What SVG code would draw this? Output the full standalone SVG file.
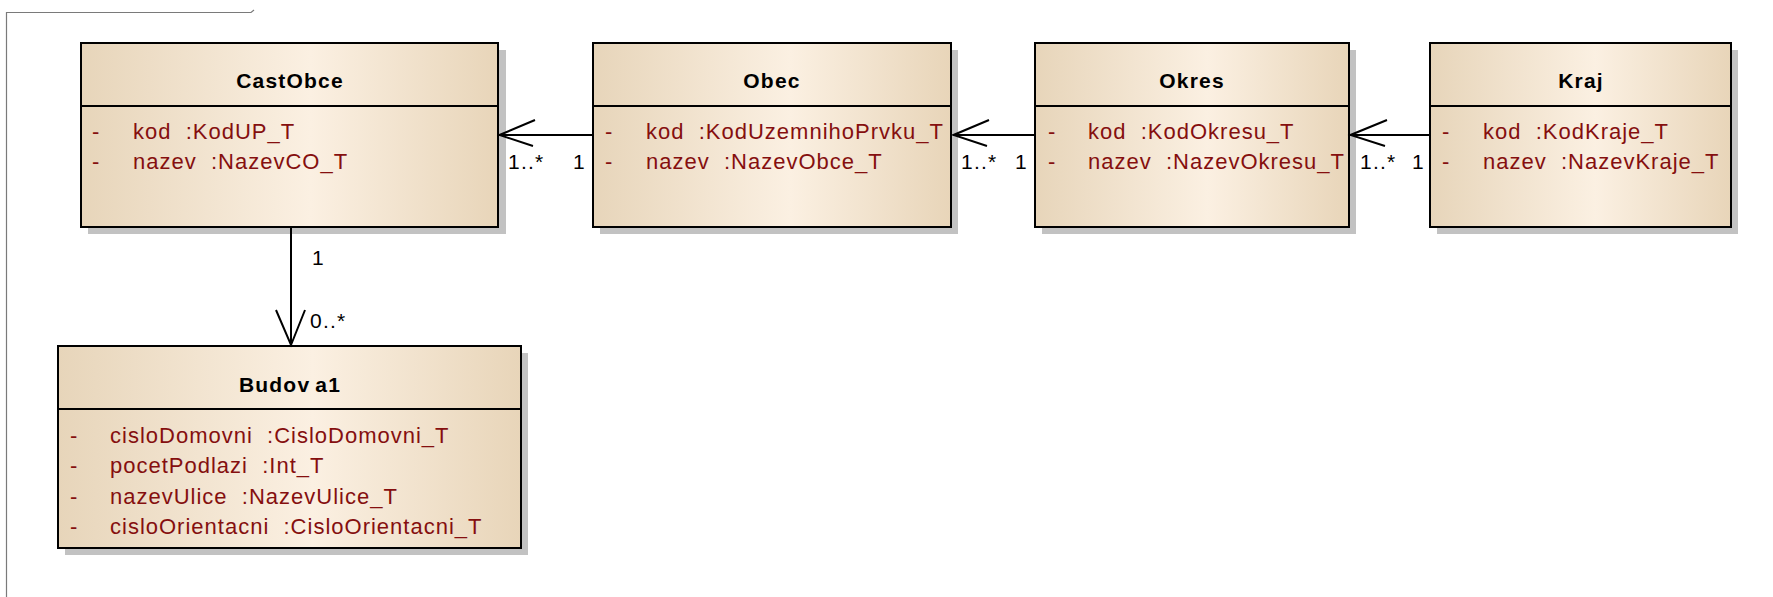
<svg xmlns="http://www.w3.org/2000/svg" width="1773" height="597" viewBox="0 0 1773 597">
  <defs>
    <linearGradient id="classFill" x1="0" y1="0" x2="1" y2="0">
      <stop offset="0" stop-color="#E7D5BA"/>
      <stop offset="0.55" stop-color="#FBF0E2"/>
      <stop offset="1" stop-color="#E8D5B9"/>
    </linearGradient>
    <style>
      .shadow { fill: #C2C2C2; }
      .box { fill: url(#classFill); stroke: #000; stroke-width: 2; }
      .divider { stroke: #000; stroke-width: 2; }
      .title { font-family: "Liberation Sans", Arial, sans-serif; font-size: 21px; font-weight: bold; fill: #000; text-anchor: middle; letter-spacing: 1.2px; }
      .attr { font-family: "Liberation Sans", Arial, sans-serif; font-size: 22px; fill: #850F0F; letter-spacing: 1px; }
      .edge { fill: none; stroke: #000; stroke-width: 2; }
      .mult { font-family: "Liberation Sans", Arial, sans-serif; font-size: 21px; fill: #000; letter-spacing: 1.2px; }
      .frame { fill: none; stroke: #7A7A7A; stroke-width: 1.2; }
    </style>
  </defs>

  <rect width="1773" height="597" fill="#FFFFFF"/>

  <!-- diagram frame -->
  <path class="frame" d="M6.5,597 V12.5 H251 L254,10"/>

  <!-- CastObce -->
  <g id="CastObce">
    <rect class="shadow" x="88" y="50" width="418" height="184"/>
    <rect class="box" x="81" y="43" width="417" height="184"/>
    <line class="divider" x1="81" y1="106" x2="498" y2="106"/>
    <text class="title" x="290" y="88">CastObce</text>
    <text class="attr" y="139"><tspan x="92">-</tspan><tspan x="133">kod&#160; :KodUP_T</tspan></text>
    <text class="attr" y="169"><tspan x="92">-</tspan><tspan x="133">nazev&#160; :NazevCO_T</tspan></text>
  </g>

  <!-- Obec -->
  <g id="Obec">
    <rect class="shadow" x="600" y="50" width="358" height="184"/>
    <rect class="box" x="593" y="43" width="358" height="184"/>
    <line class="divider" x1="593" y1="106" x2="951" y2="106"/>
    <text class="title" x="772" y="88">Obec</text>
    <text class="attr" y="139"><tspan x="605">-</tspan><tspan x="646">kod&#160; :KodUzemnihoPrvku_T</tspan></text>
    <text class="attr" y="169"><tspan x="605">-</tspan><tspan x="646">nazev&#160; :NazevObce_T</tspan></text>
  </g>

  <!-- Okres -->
  <g id="Okres">
    <rect class="shadow" x="1042" y="50" width="314" height="184"/>
    <rect class="box" x="1035" y="43" width="314" height="184"/>
    <line class="divider" x1="1035" y1="106" x2="1349" y2="106"/>
    <text class="title" x="1192" y="88">Okres</text>
    <text class="attr" y="139"><tspan x="1048">-</tspan><tspan x="1088">kod&#160; :KodOkresu_T</tspan></text>
    <text class="attr" y="169"><tspan x="1048">-</tspan><tspan x="1088">nazev&#160; :NazevOkresu_T</tspan></text>
  </g>

  <!-- Kraj -->
  <g id="Kraj">
    <rect class="shadow" x="1437" y="50" width="301" height="184"/>
    <rect class="box" x="1430" y="43" width="301" height="184"/>
    <line class="divider" x1="1430" y1="106" x2="1731" y2="106"/>
    <text class="title" x="1581" y="88">Kraj</text>
    <text class="attr" y="139"><tspan x="1442">-</tspan><tspan x="1483">kod&#160; :KodKraje_T</tspan></text>
    <text class="attr" y="169"><tspan x="1442">-</tspan><tspan x="1483">nazev&#160; :NazevKraje_T</tspan></text>
  </g>

  <!-- Budova1 -->
  <g id="Budova1">
    <rect class="shadow" x="65" y="353" width="463" height="202"/>
    <rect class="box" x="58" y="346" width="463" height="202"/>
    <line class="divider" x1="58" y1="409" x2="521" y2="409"/>
    <text class="title" x="290" y="392">Budov<tspan dx="5">a1</tspan></text>
    <text class="attr" y="443"><tspan x="70">-</tspan><tspan x="110">cisloDomovni&#160; :CisloDomovni_T</tspan></text>
    <text class="attr" y="473"><tspan x="70">-</tspan><tspan x="110">pocetPodlazi&#160; :Int_T</tspan></text>
    <text class="attr" y="504"><tspan x="70">-</tspan><tspan x="110">nazevUlice&#160; :NazevUlice_T</tspan></text>
    <text class="attr" y="534"><tspan x="70">-</tspan><tspan x="110">cisloOrientacni&#160; :CisloOrientacni_T</tspan></text>
  </g>

  <!-- associations with open arrowheads and multiplicities -->
  <g id="connectors">
    <line class="edge" x1="593" y1="135" x2="499" y2="135"/>
    <polyline class="edge" points="535,120 499.5,135 533,146"/>
    <text class="mult" x="508" y="169">1..*</text>
    <text class="mult" x="573" y="169">1</text>

    <line class="edge" x1="1035" y1="135" x2="953" y2="135"/>
    <polyline class="edge" points="989,120 953.5,135 987,146"/>
    <text class="mult" x="961" y="169">1..*</text>
    <text class="mult" x="1015" y="169">1</text>

    <line class="edge" x1="1430" y1="135" x2="1350" y2="135"/>
    <polyline class="edge" points="1387,120 1350.5,135 1385,146"/>
    <text class="mult" x="1360" y="169">1..*</text>
    <text class="mult" x="1412" y="169">1</text>

    <line class="edge" x1="291" y1="227" x2="291" y2="345"/>
    <polyline class="edge" points="276,310 291,345 305,310"/>
    <text class="mult" x="312" y="265">1</text>
    <text class="mult" x="310" y="328">0..*</text>
  </g>
</svg>
